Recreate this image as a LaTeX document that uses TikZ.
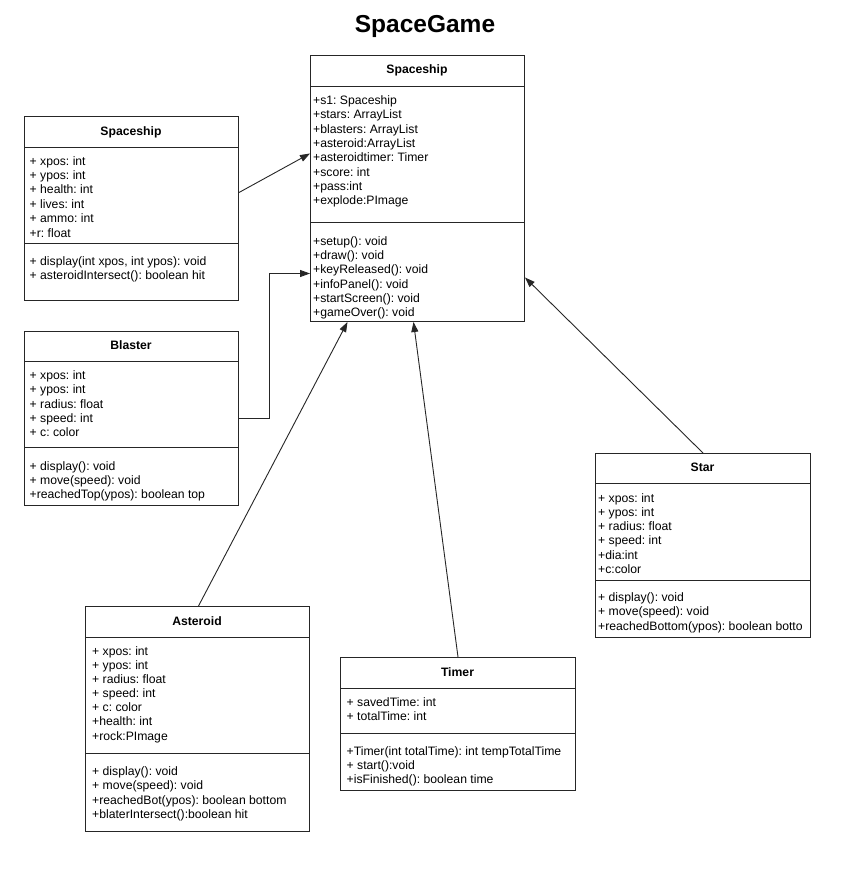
\documentclass[tikz,border=0pt]{standalone}
\usepackage{fontspec}
\setmainfont{Liberation Sans}
\usetikzlibrary{arrows.meta}
\frenchspacing
\tikzset{
  cls/.style={draw=black!85, line width=1pt, rectangle, inner sep=0pt, anchor=north west},
  dv/.style={draw=black!85, line width=1pt},
  txt/.style={inner sep=0pt, anchor=base west, font=\fontsize{12.2}{14}\selectfont\frenchspacing},
  hdr/.style={inner sep=0pt, anchor=base, font=\fontsize{12.2}{14}\selectfont\bfseries},
  arr/.style={draw=black!85, line width=0.9pt, -{Triangle[length=10pt,width=7pt]}},
}
\begin{document}
\begin{tikzpicture}[x=1pt,y=-1pt]
\useasboundingbox (0,0) rectangle (848,883);
\fill[white] (0,0) rectangle (848,883);

\node[inner sep=0pt, anchor=base, font=\fontsize{24.5}{28}\selectfont\bfseries] (title) at (425,33) {SpaceGame};

% main Spaceship
\node[cls, minimum width=214pt, minimum height=266pt] (main) at (310,55) {};
\draw[dv] (310,86) -- (524,86);
\draw[dv] (310,222) -- (524,222);
\node[hdr] (mainh) at (417,73.5) {Spaceship};
\foreach \t [count=\i from 0] in {+s1: Spaceship,+stars: ArrayList,+blasters: ArrayList,+asteroid:ArrayList,+asteroidtimer: Timer,+score: int,+pass:int,+explode:PImage}
  \node[txt] (ma\i) at (313,104.5+14.35*\i) {\t};
\foreach \t [count=\i from 0] in {+setup(): void,+draw(): void,+keyReleased(): void,+infoPanel(): void,+startScreen(): void,+gameOver(): void}
  \node[txt] (mm\i) at (313,245.5+14.2*\i) {\t};

% left Spaceship
\node[cls, minimum width=214pt, minimum height=184pt] (ls) at (24,116) {};
\draw[dv] (24,147) -- (238,147);
\draw[dv] (24,243) -- (238,243);
\node[hdr] (lsh) at (131,135.3) {Spaceship};
\foreach \t [count=\i from 0] in {+ xpos: int,+ ypos: int,+ health: int,+ lives: int,+ ammo: int,+r: float}
  \node[txt] (la\i) at (29.5,165+14.45*\i) {\t};
\node[txt] (lm0) at (29.5,265.5) {+ display(int xpos, int ypos): void};
\node[txt] (lm1) at (29.5,279.5) {+ asteroidIntersect(): boolean hit};

% Blaster
\node[cls, minimum width=214pt, minimum height=174pt] (bl) at (24,331) {};
\draw[dv] (24,361) -- (238,361);
\draw[dv] (24,447) -- (238,447);
\node[hdr] (blh) at (131,349.3) {Blaster};
\foreach \t [count=\i from 0] in {+ xpos: int,+ ypos: int,+ radius: float,+ speed: int,+ c: color}
  \node[txt] (ba\i) at (29.5,379.5+14.35*\i) {\t};
\foreach \t [count=\i from 0] in {+ display(): void,+ move(speed): void,+reachedTop(ypos): boolean top}
  \node[txt] (bm\i) at (29.5,470+14.2*\i) {\t};

% Star
\node[cls, minimum width=215pt, minimum height=184pt] (st) at (595,453) {};
\draw[dv] (595,483) -- (810,483);
\draw[dv] (595,580) -- (810,580);
\node[hdr] (sth) at (702.5,471.5) {Star};
\foreach \t [count=\i from 0] in {+ xpos: int,+ ypos: int,+ radius: float,+ speed: int,+dia:int,+c:color}
  \node[txt] (sa\i) at (598,502.3+14.2*\i) {\t};
\foreach \t [count=\i from 0] in {+ display(): void,+ move(speed): void,+reachedBottom(ypos): boolean botto}
  \node[txt] (sm\i) at (598,601.7+14.2*\i) {\t};

% Asteroid
\node[cls, minimum width=224pt, minimum height=225pt] (as) at (85,606) {};
\draw[dv] (85,637) -- (309,637);
\draw[dv] (85,753) -- (309,753);
\node[hdr] (ash) at (197,625) {Asteroid};
\foreach \t [count=\i from 0] in {+ xpos: int,+ ypos: int,+ radius: float,+ speed: int,+ c: color,+health: int,+rock:PImage}
  \node[txt] (aa\i) at (92,655+14.17*\i) {\t};
\foreach \t [count=\i from 0] in {+ display(): void,+ move(speed): void,+reachedBot(ypos): boolean bottom,+blaterIntersect():boolean hit}
  \node[txt] (am\i) at (92,775.7+14.2*\i) {\t};

% Timer
\node[cls, minimum width=235pt, minimum height=133pt] (tm) at (340,657) {};
\draw[dv] (340,688) -- (575,688);
\draw[dv] (340,733) -- (575,733);
\node[hdr] (tmh) at (457.5,676) {Timer};
\node[txt] (ta0) at (346.5,706.7) {+ savedTime: int};
\node[txt] (ta1) at (346.5,720.7) {+ totalTime: int};
\foreach \t [count=\i from 0] in {+Timer(int totalTime): int tempTotalTime,+ start():void,+isFinished(): boolean time}
  \node[txt] (tmm\i) at (346.5,755+14.2*\i) {\t};

% connectors
\draw[arr] ([yshift=16pt]ls.east) -- ([yshift=35pt]main.west);
\draw[arr] (bl.east) -- ++(30pt,0) |- ([yshift=-85pt]main.west);
\draw[arr] ([xshift=1pt]as.north) -- ([xshift=-70pt]main.south);
\draw[arr] (tm.north) -- ([xshift=-4pt]main.south);
\draw[arr] (st.north) -- ([yshift=-89pt]main.east);
\end{tikzpicture}
\end{document}
